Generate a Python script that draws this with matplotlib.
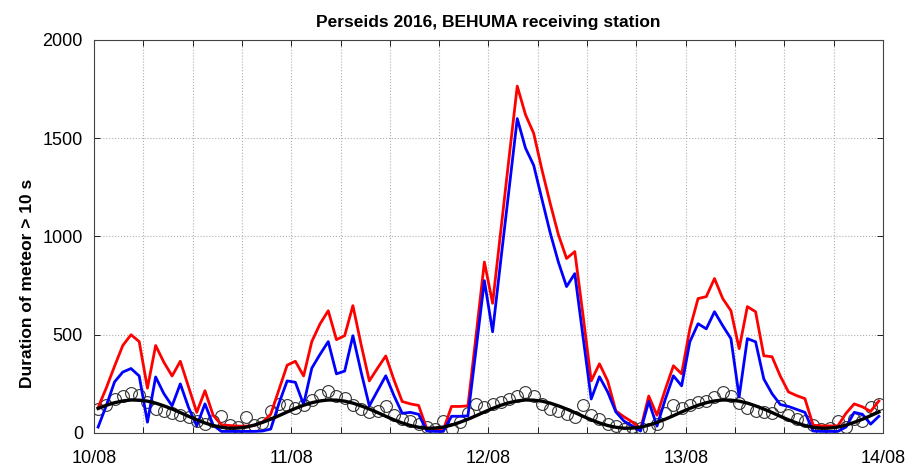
import numpy as np
import matplotlib
matplotlib.use("Agg")
import matplotlib.pyplot as plt

# Hourly counts, 10/08 00h .. 13/08 23h (96 values, plotted at mid-hour)
red_counts = [
    130, 230, 340, 445, 500, 465, 228, 445, 360, 290, 365, 235,
    105, 215, 90, 42, 38, 35, 35, 38, 55, 95, 220, 345,
    365, 290, 465, 555, 622, 475, 495, 648, 450, 265, 330, 392,
    270, 160, 148, 140, 20, 15, 15, 135, 135, 138, 500, 870,
    660, 1030, 1400, 1765, 1620, 1525, 1340, 1170, 1010, 888, 923, 600,
    265, 352, 265, 112, 82, 56, 20, 188, 90, 220, 342, 301,
    530, 684, 694, 786, 684, 622, 429, 643, 617, 393, 388, 290,
    209, 190, 175, 40, 36, 36, 36, 100, 148, 133, 110, 163,
]
blue_counts = [
    30, 140, 260, 310, 328, 290, 55, 285, 200, 138, 250, 130,
    36, 148, 40, 8, 8, 8, 8, 8, 10, 20, 150, 265,
    258, 145, 330, 400, 465, 301, 315, 495, 310, 138, 215, 291,
    190, 100, 105, 95, 10, 8, 8, 85, 85, 87, 430, 775,
    515, 880, 1240, 1600, 1450, 1362, 1190, 1020, 870, 745, 811, 490,
    173, 286, 209, 107, 60, 36, 10, 160, 35, 170, 291, 240,
    464, 556, 530, 617, 546, 480, 184, 480, 464, 275, 200, 145,
    135, 120, 105, 10, 8, 8, 8, 30, 105, 95, 45, 85,
]
sporadic_counts = [
    120, 140, 175, 190, 205, 195, 160, 120, 110, 100, 90, 80,
    60, 45, 60, 85, 40, 30, 80, 40, 50, 110, 150, 140,
    125, 140, 170, 195, 215, 190, 180, 140, 120, 105, 110, 135,
    90, 70, 60, 45, 30, 20, 60, 20, 55, 100, 150, 130,
    145, 160, 175, 190, 210, 190, 150, 120, 110, 95, 80, 140,
    90, 70, 45, 35, 20, 30, 25, 20, 45, 100, 140, 125,
    140, 160, 165, 185, 210, 190, 155, 125, 112, 108, 100, 135,
    90, 70, 60, 40, 20, 25, 60, 30, 70, 60, 130, 150,
]
sporadic_fit = [
    125, 141, 154, 163, 168, 167, 162, 152, 138, 122, 104, 85,
    67, 51, 38, 29, 24, 25, 30, 40, 54, 70, 88, 107,
    125, 141, 154, 163, 168, 167, 162, 152, 138, 122, 104, 85,
    67, 51, 38, 29, 24, 25, 30, 40, 54, 70, 88, 107,
    125, 141, 154, 163, 168, 167, 162, 152, 138, 122, 104, 85,
    67, 51, 38, 29, 24, 25, 30, 40, 54, 70, 88, 107,
    125, 141, 154, 163, 168, 167, 162, 152, 138, 122, 104, 85,
    67, 51, 38, 29, 24, 25, 30, 40, 54, 70, 88, 107,
]
day_labels = ["10/08", "11/08", "12/08", "13/08", "14/08"]

hours = np.arange(len(red_counts)) + 0.5

plt.rcParams["font.family"] = ["Liberation Sans", "DejaVu Sans"]

fig = plt.figure(figsize=(9.19, 4.69), dpi=100)
ax = fig.add_axes([0.1023, 0.0768, 0.8585, 0.838])

ax.plot(hours, sporadic_counts, "o", ms=8.5, mfc="none", mec="#333333", mew=0.8, zorder=2)
ax.plot(hours, red_counts, color="#ff0000", lw=2.0, zorder=3)
ax.plot(hours, blue_counts, color="#0000ff", lw=2.0, zorder=4)
ax.plot(hours, sporadic_fit, color="black", lw=2.4, zorder=5)

ax.set_xlim(0, 96)
ax.set_ylim(0, 2000)
ax.set_xticks(np.arange(0, 97, 6))
ax.set_xticklabels([day_labels[i // 24] if i % 24 == 0 else "" for i in range(0, 97, 6)])
ax.set_yticks([0, 500, 1000, 1500, 2000])
ax.tick_params(labelsize=13, direction="in", length=4, width=0.6, top=True, right=True)
ax.tick_params(axis="y", pad=8)
ax.tick_params(axis="x", pad=12)
ax.grid(True, color="#b0b0b0", linestyle=":", linewidth=0.8)
for s in ax.spines.values():
    s.set_linewidth(0.8)
    s.set_color("#444444")

ax.set_title("Perseids 2016, BEHUMA receiving station", fontsize=12.5, fontweight="bold", pad=9)
ax.set_ylabel("Duration of meteor > 10 s", fontsize=12.5, fontweight="bold")
ax.yaxis.set_label_coords(-0.075, 0.38)

fig.savefig("out.png", dpi=100)
